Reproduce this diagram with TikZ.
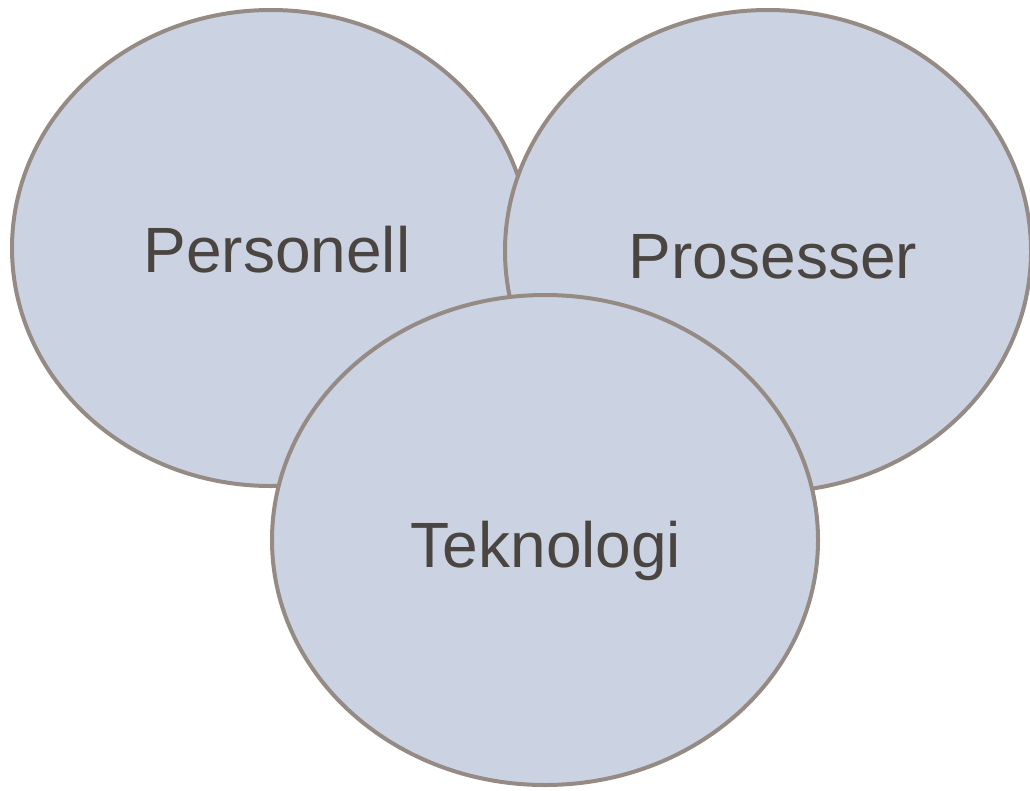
\documentclass[tikz,border=0pt]{standalone}
\usepackage{fontspec}
\setmainfont{Liberation Sans}
\usetikzlibrary{shapes.geometric}
\definecolor{circfill}{HTML}{CBD3E2}
\definecolor{circline}{HTML}{968B84}
\definecolor{txt}{HTML}{4B4541}
\tikzset{
  circ/.style={ellipse, draw=circline, fill=circfill, line width=4pt, inner sep=0pt, outer sep=0pt},
  lbl/.style={anchor=base, text=txt, inner sep=0pt, font=\fontsize{64}{64}\selectfont}
}
\begin{document}
\begin{tikzpicture}[x=1pt,y=-1pt]
\useasboundingbox (0,0) rectangle (1030,790);
\node[circ, minimum width=518pt, minimum height=476pt] (pers) at (271,248) {};
\node[circ, minimum width=526pt, minimum height=482pt] (pros) at (768,251) {};
\node[circ, minimum width=546pt, minimum height=490pt] (tek) at (545,540) {};
\node[lbl] (tpers) at (277,272) {Personell};
\node[lbl] (tpros) at (773,278) {Prosesser};
\node[lbl] (ttek) at (546,567) {Teknologi};
\end{tikzpicture}
\end{document}
